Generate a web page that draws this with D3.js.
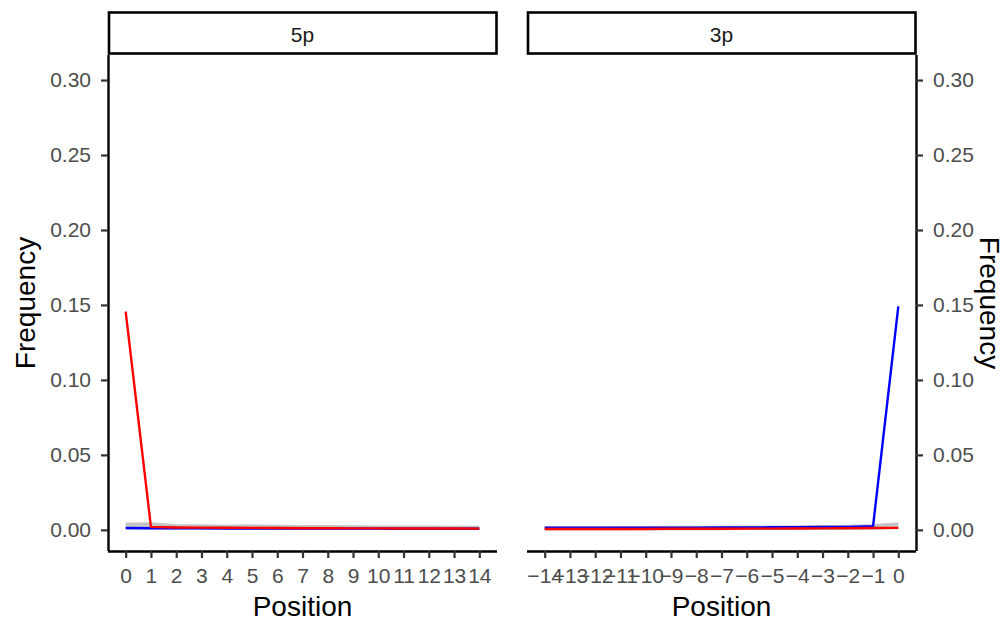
<!DOCTYPE html>
<html><head><meta charset="utf-8">
<script src="https://cdn.jsdelivr.net/npm/d3@7"></script>
<style>body{margin:0;background:#fff}svg{display:block}text{font-family:"Liberation Sans",Arial,sans-serif}</style>
</head><body><svg id="c" width="1005" height="619"></svg>
<script>
const pos5 = d3.range(0, 15);
const pos3 = d3.range(-14, 1);
const yTicks = [0, 0.05, 0.10, 0.15, 0.20, 0.25, 0.30];
const red5  = [0.1455,0.0020,0.0016,0.0015,0.0014,0.0013,0.0012,0.0011,0.0011,0.0010,0.0010,0.0009,0.0009,0.0009,0.0008];
const blue5 = [0.0012,0.0011,0.0010,0.0010,0.0009,0.0009,0.0009,0.0008,0.0008,0.0008,0.0008,0.0007,0.0007,0.0007,0.0007];
const grayA5 = [0.0040,0.0042,0.0030,0.0028,0.0026,0.0028,0.0025,0.0024,0.0023,0.0022,0.0021,0.0020,0.0020,0.0019,0.0019];
const grayB5 = [0.0026,0.0030,0.0022,0.0020,0.0019,0.0020,0.0018,0.0017,0.0016,0.0016,0.0015,0.0015,0.0014,0.0014,0.0014];
const grayC5 = [0.0010,0.0011,0.0010,0.0010,0.0010,0.0010,0.0009,0.0009,0.0009,0.0009,0.0009,0.0009,0.0008,0.0008,0.0008];
const blue3 = [0.0014,0.0014,0.0014,0.0014,0.0015,0.0015,0.0015,0.0016,0.0016,0.0017,0.0018,0.0019,0.0020,0.0024,0.1490];
const red3  = [0.0006,0.0006,0.0006,0.0006,0.0006,0.0007,0.0007,0.0007,0.0008,0.0008,0.0009,0.0010,0.0011,0.0012,0.0013];
const grayA3 = [0.0016,0.0016,0.0016,0.0017,0.0017,0.0018,0.0018,0.0019,0.0020,0.0021,0.0022,0.0024,0.0026,0.0030,0.0042];
const grayB3 = [0.0010,0.0010,0.0010,0.0011,0.0011,0.0011,0.0012,0.0012,0.0013,0.0013,0.0014,0.0015,0.0017,0.0020,0.0028];
const grayC3 = [0.0005,0.0005,0.0005,0.0005,0.0006,0.0006,0.0006,0.0006,0.0007,0.0007,0.0008,0.0008,0.0009,0.0010,0.0014];

(function(){
const svg = d3.select("#c");
const pTop = 55, pBottom = 551;
const y = d3.scaleLinear().domain([-0.0141, 0.3167]).range([pBottom, pTop]);
const TICKFS = 21, TITLEFS = 28;

const panels = [
  {label:"5p", x0:108, x1:497, pos:pos5, series:[[grayA5,"gray"],[grayB5,"gray"],[grayC5,"gray"],[blue5,"blue"],[red5,"red"]], side:"left"},
  {label:"3p", x0:527, x1:916, pos:pos3, series:[[grayA3,"gray"],[grayB3,"gray"],[grayC3,"gray"],[blue3,"blue"],[red3,"red"]], side:"right"}
];

panels.forEach(p => {
  const ext = d3.extent(p.pos), pad = (ext[1]-ext[0])*0.05;
  const x = d3.scaleLinear().domain([ext[0]-pad, ext[1]+pad]).range([p.x0, p.x1]);
  const g = svg.append("g");
  g.append("rect").attr("x", p.x0+1).attr("y", 12.5).attr("width", p.x1-p.x0-1.5).attr("height", 41)
    .attr("fill", "#fff").attr("stroke", "#000").attr("stroke-width", 2.6);
  g.append("text").attr("x", (p.x0+p.x1)/2).attr("y", 41.5).attr("text-anchor","middle")
    .attr("font-size", TICKFS).attr("fill","#1a1a1a").text(p.label);
  const line = d3.line().x((d,i)=>x(p.pos[i])).y(d=>y(d));
  p.series.forEach(([vals,col]) => {
    g.append("path").datum(vals).attr("d", line).attr("fill","none")
      .attr("stroke", col==="gray" ? "#bdbdbd" : (col==="red" ? "#ff0000" : "#0000ff"))
      .attr("stroke-opacity", col==="gray" ? 0.85 : 1)
      .attr("stroke-width", col==="gray" ? 2.6 : 2.4)
      .attr("stroke-linejoin","round");
  });
  const xa = g.append("g").attr("transform", `translate(0,${pBottom})`)
    .call(d3.axisBottom(x).tickValues(p.pos).tickSize(7).tickPadding(10)
      .tickFormat(d => d < 0 ? "\u2212" + Math.abs(d) : String(d)));
  xa.attr("font-size", null);
  xa.select(".domain").attr("d", `M${p.x0},0.5H${p.x1}`).attr("stroke","#000").attr("stroke-width",2.4);
  xa.selectAll(".tick line").attr("stroke","#333").attr("stroke-width",2.2);
  xa.selectAll(".tick text").attr("font-size", TICKFS).attr("fill","#4d4d4d").attr("font-family","Liberation Sans, Arial, sans-serif");
  const ax = p.side === "left" ? d3.axisLeft(y) : d3.axisRight(y);
  const ya = g.append("g").attr("transform", `translate(${p.side==="left"?p.x0:p.x1},0)`)
    .call(ax.tickValues(yTicks).tickSize(7).tickPadding(10).tickFormat(d3.format(".2f")));
  ya.select(".domain").attr("d", `M0.5,${pTop}V${pBottom}`).attr("stroke","#000").attr("stroke-width",2.4);
  ya.selectAll(".tick line").attr("stroke","#333").attr("stroke-width",2.2);
  ya.selectAll(".tick text").attr("font-size", TICKFS).attr("fill","#4d4d4d").attr("font-family","Liberation Sans, Arial, sans-serif");
  g.append("text").attr("x",(p.x0+p.x1)/2).attr("y", 616).attr("text-anchor","middle")
    .attr("font-size", TITLEFS).attr("fill","#000").text("Position");
});
svg.append("text").attr("transform","translate(35,303) rotate(-90)").attr("text-anchor","middle")
  .attr("font-size",TITLEFS).attr("fill","#000").text("Frequency");
svg.append("text").attr("transform","translate(980,303) rotate(90)").attr("text-anchor","middle")
  .attr("font-size",TITLEFS).attr("fill","#000").text("Frequency");
})();
</script></body></html>
